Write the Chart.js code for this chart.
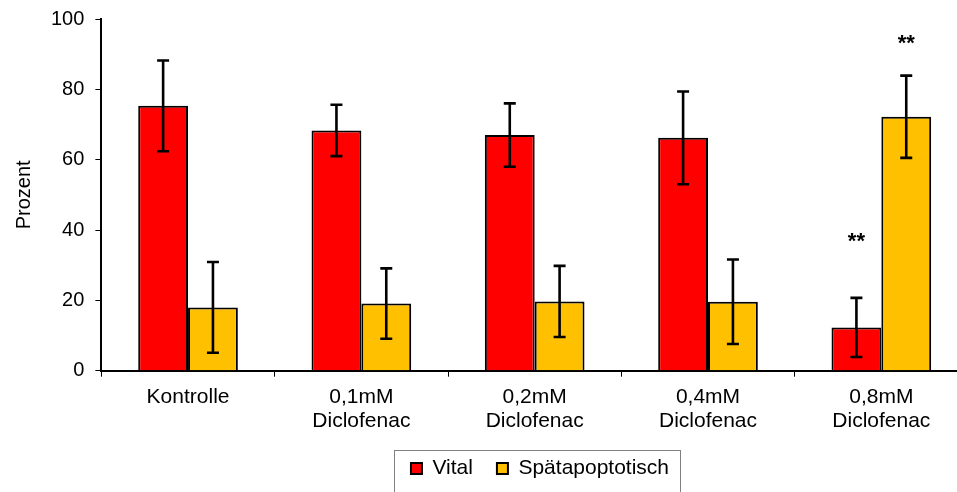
<!DOCTYPE html>
<html>
<head>
<meta charset="utf-8">
<script src="https://cdn.jsdelivr.net/npm/chart.js@4/dist/chart.umd.min.js"></script>
<style>
  html, body { margin: 0; padding: 0; background: #fff; overflow: hidden; }
  #wrap { width: 970px; height: 500px; position: relative; margin-top: -4px; }
</style>
</head>
<body>
<div id="wrap"><canvas id="c"></canvas></div>
<script>
// Treatment groups
const categories = [
  'Kontrolle',
  ['0,1mM', 'Diclofenac'],
  ['0,2mM', 'Diclofenac'],
  ['0,4mM', 'Diclofenac'],
  ['0,8mM', 'Diclofenac']
];
const seriesNames = ['Vital', 'Spätapoptotisch'];

// Mean percentages
const vital = [75.3, 68.3, 67.0, 66.2, 12.3];
const spaetapoptotisch = [18.0, 19.1, 19.7, 19.6, 72.2];

// Standard deviations
const vitalSD = [12.9, 7.3, 9.0, 13.2, 8.4];
const spaetapoptotischSD = [12.9, 10.0, 10.1, 12.0, 11.7];

// Significance marks per group
const vitalSig = ['', '', '', '', '**'];
const spaetapoptotischSig = ['', '', '', '', '**'];

const yTicks = [0, 20, 40, 60, 80, 100];

const FONT = "'Liberation Sans', Arial, sans-serif";

// Whiskers for each bar (mean ± SD)
const errorBarPlugin = {
  id: 'errorBars',
  afterDatasetsDraw(chart) {
    const ctx = chart.ctx;
    const y = chart.scales.y;
    ctx.save();
    ctx.strokeStyle = '#000';
    ctx.lineWidth = 2.6;
    chart.data.datasets.forEach((ds, di) => {
      const meta = chart.getDatasetMeta(di);
      meta.data.forEach((bar, i) => {
        const v = ds.data[i], e = ds.sd[i];
        const top = y.getPixelForValue(v + e);
        const bot = y.getPixelForValue(v - e);
        const cap = 6;
        ctx.beginPath();
        ctx.moveTo(bar.x, top); ctx.lineTo(bar.x, bot);
        ctx.moveTo(bar.x - cap, top); ctx.lineTo(bar.x + cap, top);
        ctx.moveTo(bar.x - cap, bot); ctx.lineTo(bar.x + cap, bot);
        ctx.stroke();
      });
    });
    ctx.restore();
  }
};

// Significance asterisks above the whiskers
const sigPlugin = {
  id: 'sigMarks',
  afterDatasetsDraw(chart, args, opts) {
    const ctx = chart.ctx;
    const y = chart.scales.y;
    ctx.save();
    ctx.fillStyle = '#000';
    ctx.font = 'bold 22px ' + FONT;
    ctx.textAlign = 'center';
    ctx.textBaseline = 'middle';
    chart.data.datasets.forEach((ds, di) => {
      const meta = chart.getDatasetMeta(di);
      meta.data.forEach((bar, i) => {
        const s = ds.sig[i];
        if (!s) return;
        const top = y.getPixelForValue(ds.data[i] + ds.sd[i]);
        ctx.fillText(s, bar.x, top - opts.gap[di]);
      });
    });
    ctx.restore();
  }
};

// Moves the legend block, then frames it
const legendFramePlugin = {
  id: 'legendFrame',
  afterLayout(chart, args, opts) {
    const lg = chart.legend;
    if (!lg) return;
    lg.left += opts.dx; lg.right += opts.dx;
    lg.top += opts.dy; lg.bottom += opts.dy;
  },
  afterDraw(chart) {
    const lg = chart.legend;
    if (!lg || !lg.legendHitBoxes || !lg.legendHitBoxes.length) return;
    const boxes = lg.legendHitBoxes;
    let x0 = Infinity, x1 = -Infinity, y0 = Infinity;
    boxes.forEach(b => {
      x0 = Math.min(x0, b.left);
      x1 = Math.max(x1, b.left + b.width);
      y0 = Math.min(y0, b.top);
    });
    const ctx = chart.ctx;
    ctx.save();
    ctx.strokeStyle = '#808080';
    ctx.lineWidth = 1;
    ctx.strokeRect(Math.round(x0 - 17) + 0.5, Math.round(y0 - 8) + 0.5,
                   Math.round(x1 - x0 + 28), 80);
    ctx.restore();
  }
};

new Chart(document.getElementById('c'), {
  type: 'bar',
  data: {
    labels: categories,
    datasets: [
      {
        label: seriesNames[0],
        data: vital,
        sd: vitalSD,
        sig: vitalSig,
        backgroundColor: '#ff0000',
        borderColor: '#000',
        borderWidth: 2
      },
      {
        label: seriesNames[1],
        data: spaetapoptotisch,
        sd: spaetapoptotischSD,
        sig: spaetapoptotischSig,
        backgroundColor: '#ffc000',
        borderColor: '#000',
        borderWidth: 2
      }
    ]
  },
  options: {
    responsive: true,
    maintainAspectRatio: false,
    animation: false,
    layout: { padding: { top: 6, right: 2, left: 12, bottom: 0 } },
    datasets: {
      bar: { categoryPercentage: 0.575, barPercentage: 1.0 }
    },
    scales: {
      x: {
        grid: {
          display: true,
          drawOnChartArea: false,
          drawTicks: true,
          tickLength: 6,
          color: '#000',
          offset: true
        },
        border: { display: true, color: '#000', width: 2 },
        ticks: {
          color: '#000',
          font: { family: FONT, size: 21, lineHeight: 1.15 },
          maxRotation: 0,
          padding: 8
        }
      },
      y: {
        min: 0,
        max: 100,
        afterBuildTicks(scale) {
          scale.ticks = yTicks.map(v => ({ value: v }));
        },
        grid: {
          display: true,
          drawOnChartArea: false,
          drawTicks: true,
          tickLength: 6,
          color: '#000'
        },
        border: { display: true, color: '#000', width: 2 },
        ticks: {
          color: '#000',
          font: { family: FONT, size: 20 },
          padding: 11
        },
        title: {
          display: true,
          text: 'Prozent',
          color: '#000',
          font: { family: FONT, size: 20 },
          padding: { top: 0, bottom: 4 }
        }
      }
    },
    plugins: {
      legend: {
        position: 'bottom',
        labels: {
          color: '#000',
          font: { family: FONT, size: 21 },
          boxWidth: 11,
          boxHeight: 11,
          padding: 24,
          useBorderRadius: false
        }
      },
      tooltip: { enabled: false },
      sigMarks: { gap: [56, 32] },
      legendFrame: { dx: 50, dy: -7 }
    }
  },
  plugins: [errorBarPlugin, sigPlugin, legendFramePlugin]
});
</script>
</body>
</html>
